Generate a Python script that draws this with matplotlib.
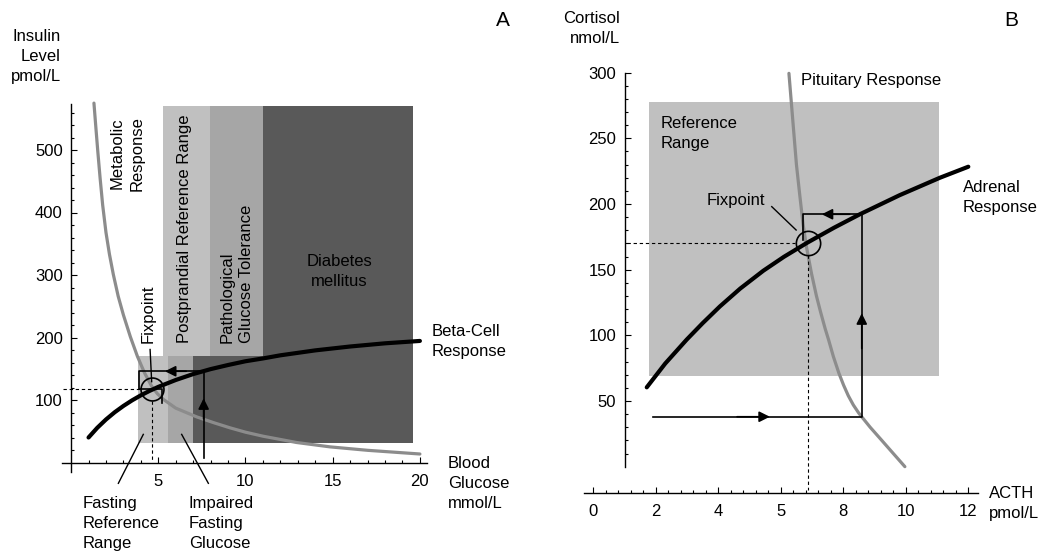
import numpy as np
import matplotlib.pyplot as plt

plt.rcParams['font.family'] = ['Liberation Sans', 'DejaVu Sans']
plt.rcParams['font.size'] = 12

# ---- panel A data (glucose / insulin) ----
beta_x = [1.0, 1.5, 2, 2.5, 3, 3.5, 4, 4.5, 5, 6, 7, 8, 9, 10, 11, 12, 14, 16, 18, 20]
beta_y = [40, 55.5, 68.8, 80.4, 90.5, 99.5, 107.5, 114.6, 121, 132, 141.5, 149.4, 156, 162,
          166.5, 171.5, 179.4, 185.6, 190.7, 194.5]
metab_x = [1.31, 1.42, 1.53, 1.66, 1.81, 2.0, 2.2, 2.42, 2.7, 3.0, 3.4, 3.8, 4.2, 4.62, 4.95,
           5.29, 6.0, 7.2, 8.2, 9.11, 10, 11.02, 12.93, 14.85, 17, 20]
metab_y = [575, 536, 498, 456, 412, 368, 333, 301, 266, 236, 201, 170, 144, 122, 110,
           101, 87, 73, 63.5, 55.5, 48.5, 42, 32, 25, 19.5, 13.6]
# zones: (x0, x1, y0, y1, colour)
zones_a = [(5.29, 7.96, 171, 570, '#c0c0c0'),
           (7.96, 10.99, 171, 570, '#a6a6a6'),
           (10.99, 19.6, 31, 570, '#595959'),
           (3.86, 5.58, 31, 171, '#c0c0c0'),
           (5.58, 7.01, 31, 171, '#a6a6a6'),
           (7.01, 10.99, 31, 171, '#595959')]
fix_a = (4.62, 117)
cobweb_a_x = [7.6, 7.6, 3.92, 3.92, 5.19, 5.19]
cobweb_a_y = [6.7, 146, 146, 118, 118, 96]

# ---- panel B data (ACTH / cortisol) ----
adr_x = [1.71, 2.3, 2.99, 3.5, 4.05, 4.7, 5.44, 6.1, 6.85, 7.7, 8.53, 9.8, 11.09, 12.0]
adr_y = [60.4, 78.5, 96.8, 109.3, 122, 135.6, 149.2, 159.8, 170.6, 181.9, 192.2, 206.7,
         220, 228.4]
pit_x = [6.26, 6.40, 6.50, 6.60, 6.71, 6.82, 6.98, 7.14, 7.27, 7.42, 7.53, 7.68, 7.86,
         8.01, 8.16, 8.32, 8.50, 8.86, 9.22, 9.60, 9.97]
pit_y = [299.5, 258.9, 230, 208.2, 185, 167.5, 147.3, 130, 118, 105, 96.5, 84, 71.1,
         62, 54, 47, 40.6, 30, 20.3, 10, 0]
ref_b = (1.79, 11.06, 69, 278)
fix_b = (6.86, 170)
cobweb_b_x = [1.92, 8.59, 8.59, 6.72, 6.72]
cobweb_b_y = [38, 38, 192.2, 192.2, 172.7]
xt_b = [0, 2, 4, 6, 8, 10, 12]
xt_b_lab = ['0', '2', '4', '5', '8', '10', '12']

LS = 1.42  # line spacing of the multi-line labels

fig = plt.figure(figsize=(10.41, 5.53), dpi=100)
axA = fig.add_axes([0, 0, 520 / 1041, 1])
axB = fig.add_axes([520 / 1041, 0, 521 / 1041, 1])


def style_axes(ax):
    ax.patch.set_visible(False)
    for s in ['top', 'right']:
        ax.spines[s].set_visible(False)
    for s in ['left', 'bottom']:
        ax.spines[s].set_linewidth(1.0)
    ax.tick_params(which='both', direction='in', width=0.8, labelsize=12)
    ax.tick_params(which='major', length=4)
    ax.tick_params(which='minor', length=2.5)
    ax.tick_params(axis='x', pad=8)
    ax.tick_params(axis='y', pad=6)


def arrow(ax, tail, tip):
    ax.annotate('', xy=tip, xytext=tail,
                arrowprops=dict(arrowstyle='-|>', color='black', lw=1.2,
                                mutation_scale=16, shrinkA=0, shrinkB=0))


# ================= Panel A =================
ax = axA
ax.set_xlim(-4.077, 25.74)
ax.set_ylim(-144.8, 740)
style_axes(ax)
ax.spines['left'].set_position(('data', 0))
ax.spines['bottom'].set_position(('data', 0))
ax.spines['left'].set_bounds(-15, 574)
ax.spines['bottom'].set_bounds(-0.5, 20.4)
ax.set_xticks([5, 10, 15, 20])
ax.set_xticks([v for v in range(1, 21) if v % 5 != 0], minor=True)
ax.set_yticks([100, 200, 300, 400, 500])
ax.set_yticks([v for v in range(20, 571, 20) if v % 100 != 0], minor=True)

for x0, x1, y0, y1, c in zones_a:
    ax.fill_between([x0, x1], y0, y1, color=c, lw=0, zorder=1)

ax.plot(metab_x, metab_y, color='#8c8c8c', lw=2.3, solid_capstyle='round',
        solid_joinstyle='round', zorder=3)
ax.plot(beta_x, beta_y, color='black', lw=3.0, solid_capstyle='round',
        solid_joinstyle='round', zorder=4)

ax.plot([-0.46, fix_a[0] - 0.65], [fix_a[1], fix_a[1]], 'k--', lw=0.8, dashes=(3, 2.5), zorder=5)
ax.plot([fix_a[0], fix_a[0]], [fix_a[1] - 18, 1.3], 'k--', lw=0.8, dashes=(3, 2.5), zorder=5)
ax.plot(cobweb_a_x, cobweb_a_y, color='black', lw=1.2, zorder=5)
arrow(ax, (7.6, 70), (7.6, 102.7))
arrow(ax, (6.6, 146), (5.38, 146))
ax.plot([fix_a[0]], [fix_a[1]], 'o', ms=16.5, mfc='none', mec='black', mew=1.2, zorder=6)
ax.plot([4.53, 4.62], [180.8, 129.3], color='black', lw=1.0, zorder=6)

ax.plot([2.71, 4.14], [-33.3, 45], color='black', lw=1.0, clip_on=False)
ax.plot([7.87, 6.34], [-33.3, 45], color='black', lw=1.0, clip_on=False)

ax.text(-0.58, 650, 'Insulin\nLevel\npmol/L', ha='right', va='center', multialignment='right',
        linespacing=LS)
ax.text(24.77, 708, 'A', ha='center', va='center', fontsize=15)
ax.text(3.2, 495, 'Metabolic\nResponse', rotation=90, ha='center', va='center', linespacing=LS)
ax.text(6.53, 191, 'Postprandial Reference Range', rotation=90, ha='center', va='bottom')
ax.text(9.51, 191, 'Pathological\nGlucose Tolerance', rotation=90, ha='center', va='bottom',
        multialignment='left', linespacing=LS)
ax.text(4.43, 191, 'Fixpoint', rotation=90, ha='center', va='bottom')
ax.text(15.37, 306, 'Diabetes\nmellitus', ha='center', va='center', linespacing=LS)
ax.text(20.69, 194, 'Beta-Cell\nResponse', ha='left', va='center', linespacing=LS)
ax.text(21.61, -34, 'Blood\nGlucose\nmmol/L', ha='left', va='center', linespacing=LS)
ax.text(0.68, -97, 'Fasting\nReference\nRange', ha='left', va='center', linespacing=LS)
ax.text(6.76, -97, 'Impaired\nFasting\nGlucose', ha='left', va='center', linespacing=LS)

# ================= Panel B =================
ax = axB
ax.set_xlim(-2.346, 14.326)
ax.set_ylim(-65.75, 355.36)
style_axes(ax)
ax.spines['left'].set_position(('data', 1))
ax.spines['bottom'].set_position(('data', -20))
ax.spines['left'].set_bounds(0, 300)
ax.spines['bottom'].set_bounds(-0.3, 12.3)
ax.set_xticks(xt_b)
ax.set_xticklabels(xt_b_lab)
ax.set_xticks([v for v in np.arange(0.4, 12.3, 0.4) if abs(v / 2 - round(v / 2)) > 0.01], minor=True)
ax.set_yticks([50, 100, 150, 200, 250, 300])
ax.set_yticks([v for v in range(10, 300, 10) if v % 50 != 0], minor=True)

x0, x1, y0, y1 = ref_b
ax.fill_between([x0, x1], y0, y1, color='#c0c0c0', lw=0, zorder=1)

ax.plot(pit_x, pit_y, color='#8c8c8c', lw=2.3, solid_capstyle='round',
        solid_joinstyle='round', zorder=3)
ax.plot(adr_x, adr_y, color='black', lw=3.0, solid_capstyle='round',
        solid_joinstyle='round', zorder=4)

ax.plot([1.07, fix_b[0] - 0.4], [fix_b[1], fix_b[1]], 'k--', lw=0.8, dashes=(3, 2.5), zorder=5)
ax.plot([fix_b[0], fix_b[0]], [fix_b[1] - 9, -18], 'k--', lw=0.8, dashes=(3, 2.5), zorder=5,
        clip_on=False)
ax.plot(cobweb_b_x, cobweb_b_y, color='black', lw=1.2, zorder=5)
arrow(ax, (4.6, 38), (5.65, 38))
arrow(ax, (8.59, 90), (8.59, 116.8))
arrow(ax, (8.2, 192.2), (7.31, 192.2))
ax.plot([fix_b[0]], [fix_b[1]], 'o', ms=17.5, mfc='none', mec='black', mew=1.2, zorder=6)
ax.plot([5.71, 6.49], [198, 180.2], color='black', lw=1.0, zorder=6)

ax.text(0.85, 334, 'Cortisol\nnmol/L', ha='right', va='center', multialignment='right',
        linespacing=LS)
ax.text(13.39, 340, 'B', ha='center', va='center', fontsize=15)
ax.text(6.65, 294, 'Pituitary Response', ha='left', va='center')
ax.text(2.16, 253.7, 'Reference\nRange', ha='left', va='center', linespacing=LS)
ax.text(4.57, 203, 'Fixpoint', ha='center', va='center')
ax.text(11.82, 204.6, 'Adrenal\nResponse', ha='left', va='center', linespacing=LS)
ax.text(12.67, -27.7, 'ACTH\npmol/L', ha='left', va='center', linespacing=LS)

fig.savefig('out.png', dpi=100)
